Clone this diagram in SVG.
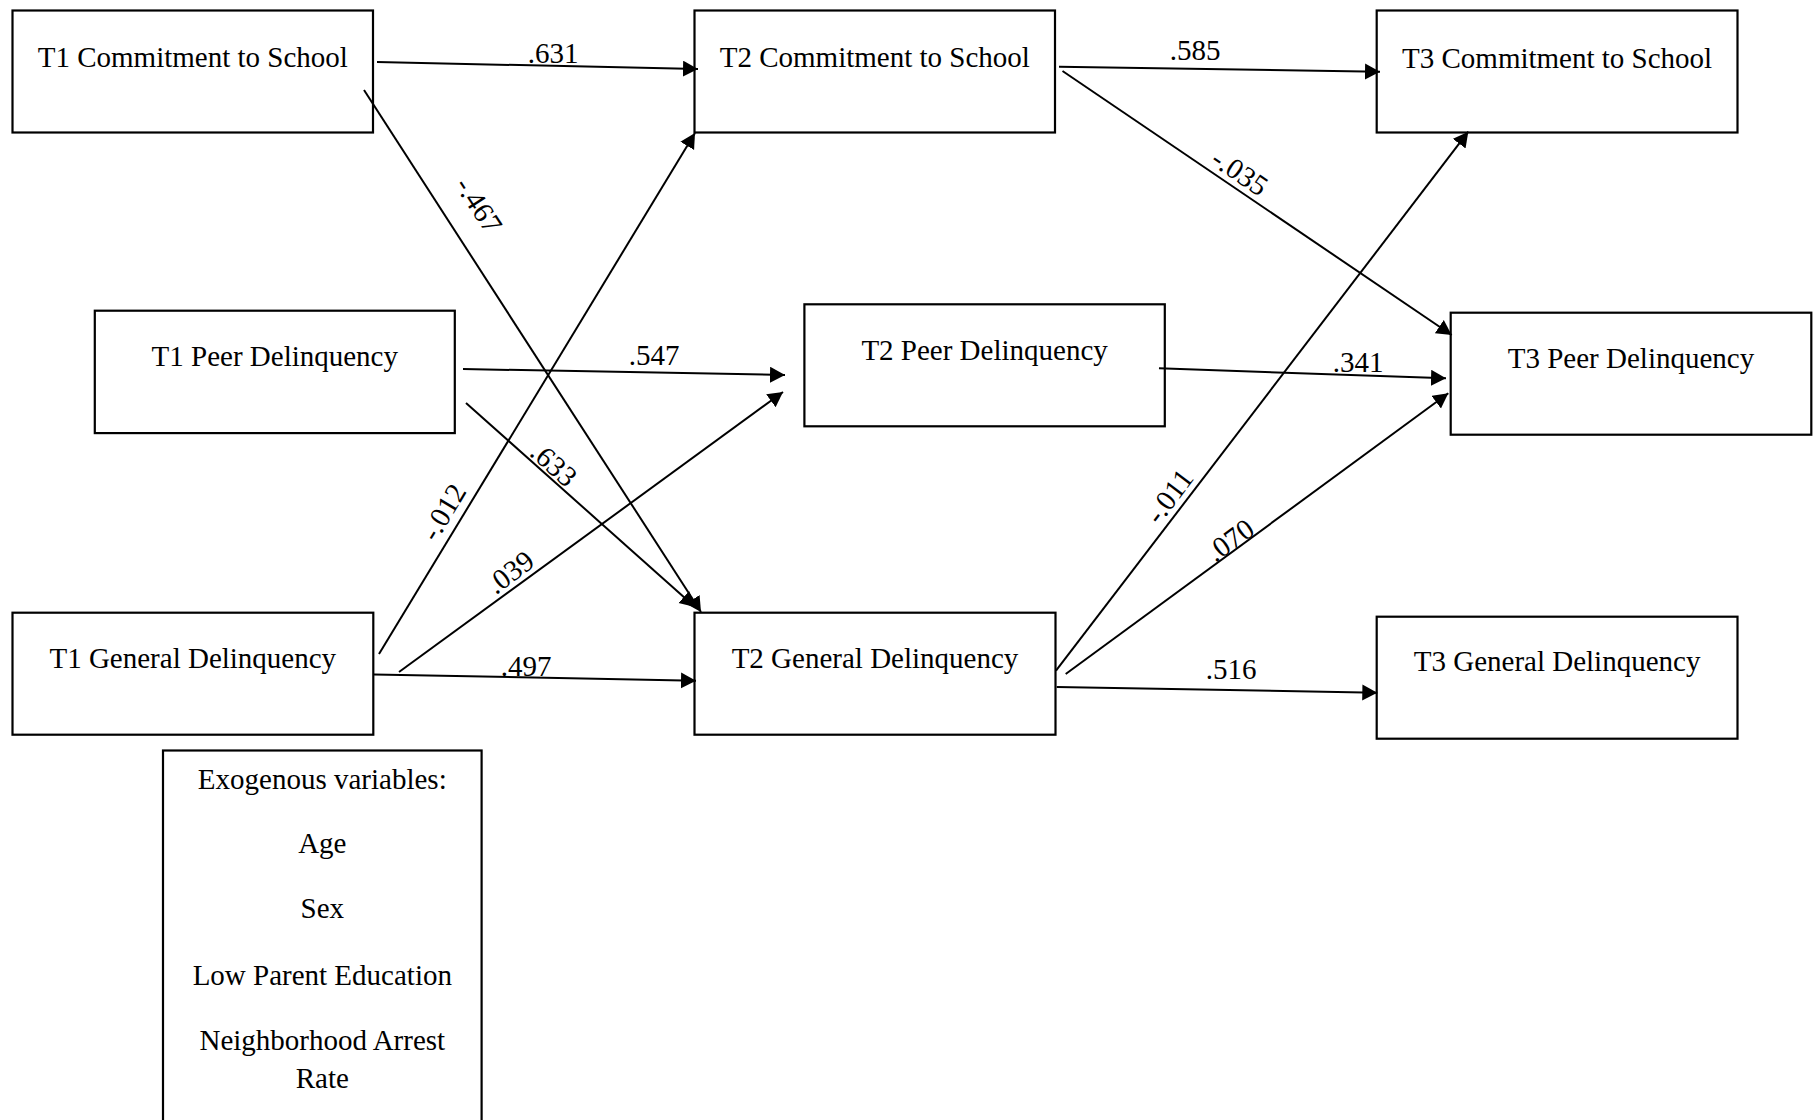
<svg xmlns="http://www.w3.org/2000/svg" width="1817" height="1120" viewBox="0 0 1817 1120">
<style>
  .box{fill:#fff;stroke:#000;stroke-width:2.2}
  .lbl{font-family:"Liberation Serif","Times New Roman",serif;font-size:29px;fill:#000;text-anchor:middle}
  .c line{stroke:#000;stroke-width:2;marker-end:url(#ah)}
</style>
<defs>
  <marker id="ah" markerUnits="userSpaceOnUse" markerWidth="16" markerHeight="17" refX="15" refY="8" orient="auto">
    <path d="M0,0 L15,8 L0,16 z" fill="#000"/>
  </marker>
</defs>
<rect width="1817" height="1120" fill="#fff"/>

<g id="t1-commitment"><rect class="box" x="12.5" y="10.5" width="360.5" height="122"/><text class="lbl" x="192.8" y="66.5">T1 Commitment to School</text></g>
<g id="t2-commitment"><rect class="box" x="694.5" y="10.5" width="360.5" height="122"/><text class="lbl" x="874.8" y="66.5">T2 Commitment to School</text></g>
<g id="t3-commitment"><rect class="box" x="1376.7" y="10.5" width="360.8" height="122"/><text class="lbl" x="1557.1" y="67.5">T3 Commitment to School</text></g>

<g id="t1-peer"><rect class="box" x="94.8" y="310.7" width="360" height="122.4"/><text class="lbl" x="274.8" y="366">T1 Peer Delinquency</text></g>
<g id="t2-peer"><rect class="box" x="804.4" y="304.3" width="360.4" height="122"/><text class="lbl" x="984.6" y="360">T2 Peer Delinquency</text></g>
<g id="t3-peer"><rect class="box" x="1450.7" y="312.7" width="360.6" height="122"/><text class="lbl" x="1631" y="368.3">T3 Peer Delinquency</text></g>

<g id="t1-general"><rect class="box" x="12.5" y="612.7" width="360.8" height="122"/><text class="lbl" x="192.8" y="668.3">T1 General Delinquency</text></g>
<g id="t2-general"><rect class="box" x="694.5" y="612.7" width="361" height="122"/><text class="lbl" x="875" y="668.3">T2 General Delinquency</text></g>
<g id="t3-general"><rect class="box" x="1376.7" y="616.7" width="360.8" height="122"/><text class="lbl" x="1557.1" y="670.7">T3 General Delinquency</text></g>

<g id="exogenous">
  <rect class="box" x="163" y="750.5" width="318.6" height="420"/>
  <text class="lbl" x="322.3" y="789.3">Exogenous variables:</text>
  <text class="lbl" x="322.3" y="853.3">Age</text>
  <text class="lbl" x="322.3" y="918.3">Sex</text>
  <text class="lbl" x="322.3" y="985">Low Parent Education</text>
  <text class="lbl" x="322.3" y="1050">Neighborhood Arrest</text>
  <text class="lbl" x="322.3" y="1088.3">Rate</text>
</g>

<g id="connectors" class="c">
  <line x1="377" y1="62" x2="698" y2="69"/>
  <line x1="364" y1="90" x2="701" y2="612"/>
  <line x1="463" y1="369" x2="785" y2="375"/>
  <line x1="466" y1="403" x2="695" y2="607"/>
  <line x1="379" y1="654" x2="695" y2="133"/>
  <line x1="399" y1="672" x2="783" y2="392"/>
  <line x1="374" y1="674.5" x2="696" y2="680.7"/>
  <line x1="1059" y1="66.7" x2="1380" y2="71.7"/>
  <line x1="1062.5" y1="71" x2="1451.7" y2="335"/>
  <line x1="1159" y1="368.3" x2="1446" y2="378.3"/>
  <line x1="1056" y1="670.7" x2="1468.3" y2="131.7"/>
  <line x1="1065.7" y1="674" x2="1448.3" y2="393.3"/>
  <line x1="1056.7" y1="687" x2="1377.3" y2="692.7"/>
</g>

<g id="labels">
  <text class="lbl" x="553" y="63">.631</text>
  <text class="lbl" x="654" y="365">.547</text>
  <text class="lbl" x="526" y="676">.497</text>
  <text class="lbl" x="1195" y="60">.585</text>
  <text class="lbl" x="1358" y="372">.341</text>
  <text class="lbl" x="1231" y="679">.516</text>
  <text class="lbl" transform="translate(479,205) rotate(57)" y="10">-.467</text>
  <text class="lbl" transform="translate(554,464) rotate(42)" y="10">.633</text>
  <text class="lbl" transform="translate(443,512) rotate(-59)" y="10">-.012</text>
  <text class="lbl" transform="translate(510,572) rotate(-37)" y="10">.039</text>
  <text class="lbl" transform="translate(1240,172) rotate(34)" y="10">-.035</text>
  <text class="lbl" transform="translate(1169,496) rotate(-53)" y="10">-.011</text>
  <text class="lbl" transform="translate(1230,540) rotate(-36)" y="10">.070</text>
</g>
</svg>
